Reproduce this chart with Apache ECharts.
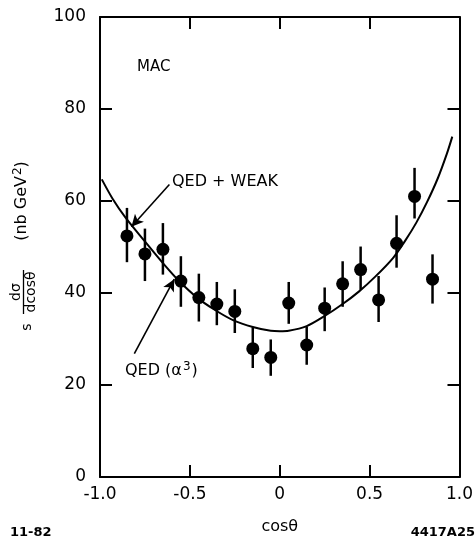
<!DOCTYPE html>
<html><head><meta charset="utf-8">
<script src="https://cdn.jsdelivr.net/npm/echarts@6/dist/echarts.min.js"></script>
<style>html,body{margin:0;padding:0;background:#fff}#c{width:476px;height:540px}</style>
</head><body><div id="c"></div>
<script>
// Measured data points (cos theta bins) with error bar ends
const cosTheta = [-0.85,-0.75,-0.65,-0.55,-0.45,-0.35,-0.25,-0.15,-0.05,0.05,0.15,0.25,0.35,0.45,0.55,0.65,0.75,0.85];
const sigma    = [52.4,48.5,49.5,42.6,39.0,37.6,36.0,27.9,26.0,37.8,28.7,36.7,42.0,45.1,38.5,50.8,61.0,43.0];
const errLow   = [46.7,42.6,44.0,37.0,33.8,33.0,31.3,23.7,22.0,33.3,24.4,31.7,37.0,40.7,33.7,45.5,56.2,37.7];
const errHigh  = [58.5,54.0,55.2,48.0,44.2,42.4,40.8,32.5,29.9,42.4,32.7,41.2,46.9,50.1,43.7,56.9,67.2,48.4];
// QED + weak prediction curve
const curveX = [-0.99,-0.93,-0.86,-0.75,-0.65,-0.56,-0.46,-0.36,-0.26,-0.15,-0.05,0.0,0.05,0.15,0.25,0.35,0.44,0.53,0.63,0.70,0.76,0.82,0.88,0.93,0.96];
const curveY = [64.7,60.5,56.5,51.2,46.5,42.6,39.0,36.3,34.1,32.6,31.8,31.7,31.8,32.8,35.0,37.6,40.3,43.5,47.6,51.5,55.3,59.8,65.0,70.3,74.0];
// Tick labels
const xTickValues = [-1, -0.5, 0, 0.5, 1];
const xTickLabels = ['-1.0', '-0.5', '0', '0.5', '1.0'];
const yTickValues = [0, 20, 40, 60, 80, 100];
const yTickLabels = ['0', '20', '40', '60', '80', '100'];
// Annotation arrows (data coordinates: start -> head)
const arrowWeak = [[-0.614, 63.6], [-0.825, 54.4]];
const arrowQed  = [[-0.809, 26.8], [-0.587, 43.0]];

const FONT = 'DejaVu Sans';
const chart = echarts.init(document.getElementById('c'), null, {renderer: 'canvas'});
const axisLine = {show: true, onZero: false, lineStyle: {color: '#000', width: 2}};
const tick = {show: true, inside: true, length: 12, lineStyle: {color: '#000', width: 2}};
function txt(extra) { return Object.assign({fill: '#000', fontFamily: FONT}, extra); }

chart.setOption({
  animation: false,
  backgroundColor: '#fff',
  grid: {left: 100, right: 16, top: 17, bottom: 56},
  xAxis: [
    {type: 'value', min: -1, max: 1, interval: 0.5, position: 'bottom',
     axisLine, axisTick: tick, splitLine: {show: false},
     axisLabel: {margin: 9, color: '#000', fontFamily: FONT, fontSize: 17,
       formatter: v => { const i = xTickValues.findIndex(t => Math.abs(t - v) < 1e-9); return i >= 0 ? xTickLabels[i] : ''; }},
     name: 'cosθ', nameLocation: 'middle', nameGap: 42,
     nameTextStyle: {color: '#000', fontFamily: FONT, fontSize: 16}},
    {type: 'value', min: -1, max: 1, interval: 0.5, position: 'top',
     axisLine, axisTick: tick, axisLabel: {show: false}, splitLine: {show: false}}
  ],
  yAxis: [
    {type: 'value', min: 0, max: 100, interval: 20, position: 'left',
     axisLine, axisTick: tick, splitLine: {show: false},
     axisLabel: {margin: 14, color: '#000', fontFamily: FONT, fontSize: 17,
       formatter: v => { const i = yTickValues.indexOf(v); return i >= 0 ? yTickLabels[i] : ''; }}},
    {type: 'value', min: 0, max: 100, interval: 20, position: 'right',
     axisLine, axisTick: tick, axisLabel: {show: false}, splitLine: {show: false}}
  ],
  series: [
    {type: 'line', data: curveX.map((x, i) => [x, curveY[i]]), smooth: 0.3,
     showSymbol: false, symbol: 'none', lineStyle: {color: '#000', width: 2}, silent: true,
     markLine: {silent: true, symbol: ['none', 'arrow'], symbolSize: [9, 12], label: {show: false},
       lineStyle: {color: '#000', width: 1.6, type: 'solid'},
       data: [
         [{coord: arrowWeak[0]}, {coord: arrowWeak[1]}],
         [{coord: arrowQed[0]}, {coord: arrowQed[1]}]
       ]}},
    {type: 'custom', silent: true,
     data: cosTheta.map((x, i) => [x, errLow[i], errHigh[i]]),
     renderItem: (params, api) => {
       const p1 = api.coord([api.value(0), api.value(1)]);
       const p2 = api.coord([api.value(0), api.value(2)]);
       return {type: 'line', shape: {x1: p1[0], y1: p1[1], x2: p2[0], y2: p2[1]},
               style: {stroke: '#000', lineWidth: 2.5}};
     }},
    {type: 'scatter', data: cosTheta.map((x, i) => [x, sigma[i]]), symbol: 'circle',
     symbolSize: 13, itemStyle: {color: '#000', opacity: 1}, silent: true}
  ],
  graphic: [
    {type: 'text', x: 137, y: 67, style: txt({text: 'MAC', fontSize: 15, verticalAlign: 'middle'})},
    {type: 'text', x: 172, y: 182, style: txt({text: 'QED + WEAK', fontSize: 16, verticalAlign: 'middle'})},
    {type: 'text', x: 125, y: 371, style: txt({
      text: 'QED (α{sup|3})', fontSize: 16, verticalAlign: 'middle',
      rich: {sup: {fontSize: 12, fontFamily: FONT, padding: [0, 1, 9, 1]}}})},
    {type: 'text', x: 10, y: 533, style: txt({text: '11-82', fontSize: 13, fontWeight: 'bold', verticalAlign: 'middle'})},
    {type: 'text', x: 475, y: 533, style: txt({text: '4417A25', fontSize: 13, fontWeight: 'bold', align: 'right', verticalAlign: 'middle'})},
    // y-axis title (rotated)
    {type: 'text', x: 22, y: 201, rotation: Math.PI / 2, style: txt({text: '(nb GeV{s|2})', fontSize: 16, align: 'center', verticalAlign: 'middle',
      rich: {s: {fontSize: 12, fontFamily: FONT, padding: [0, 0, 8, 1]}}})},
    {type: 'text', x: 16, y: 292, rotation: Math.PI / 2, style: txt({text: 'dσ', fontSize: 14, align: 'center', verticalAlign: 'middle'})},
    {type: 'line', shape: {x1: 23.5, y1: 270, x2: 23.5, y2: 314}, style: {stroke: '#000', lineWidth: 1.3}},
    {type: 'text', x: 31, y: 292, rotation: Math.PI / 2, style: txt({text: 'dcosθ', fontSize: 14, align: 'center', verticalAlign: 'middle'})},
    {type: 'text', x: 27, y: 327, rotation: Math.PI / 2, style: txt({text: 's', fontSize: 14, align: 'center', verticalAlign: 'middle'})}
  ]
});
</script></body></html>
